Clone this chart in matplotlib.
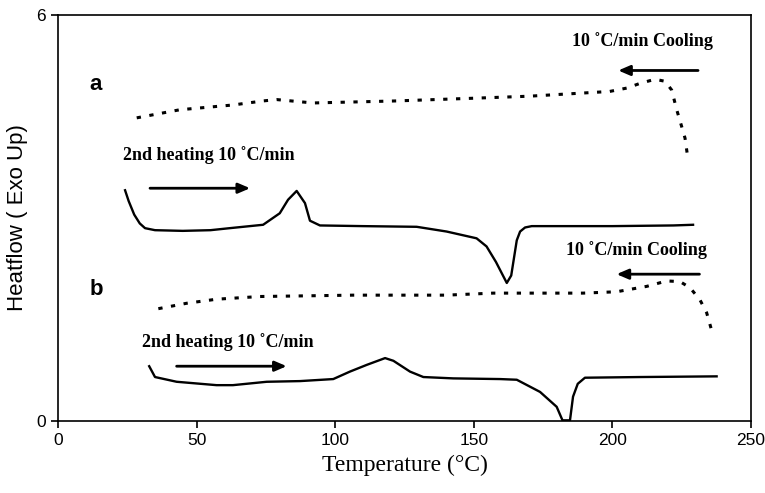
#!/usr/bin/env python
# DSC curves, heating / cooling at 10 C/min

import numpy as np
import matplotlib
matplotlib.use('Agg')
import matplotlib.pyplot as plt

# curve a, 2nd heating
a_heat_x = [24.2, 25.5, 27.5, 29.5, 31.4, 35, 45, 55, 62, 74, 80, 83, 86.1, 89.1, 90.9, 94.5,
            110, 129.4, 140.2, 151, 154.6, 158, 161.9, 163.5, 165.5, 166.7, 168.5, 170.9, 200, 222, 229.1]
a_heat_y = [3.41, 3.25, 3.05, 2.92, 2.85, 2.82, 2.81, 2.82, 2.85, 2.90, 3.07, 3.27, 3.40, 3.22, 2.96, 2.89,
            2.88, 2.87, 2.80, 2.70, 2.58, 2.35, 2.04, 2.15, 2.67, 2.80, 2.86, 2.88, 2.88, 2.89, 2.90]
# curve a, cooling
a_cool_x = [28.4, 44, 63.1, 74, 78.9, 92, 122, 150, 170, 199, 205.2, 210, 215.4, 219, 221.4, 223.2, 225, 226.2, 227.3]
a_cool_y = [4.48, 4.60, 4.67, 4.73, 4.75, 4.70, 4.73, 4.77, 4.80, 4.87, 4.92, 4.99, 5.05, 5.02, 4.89, 4.60, 4.35, 4.18, 3.86]
# curve b, 2nd heating
b_heat_x = [32.9, 35, 42.8, 57.2, 63.1, 75.3, 87.3, 99.3, 105.3, 111.4, 118, 121, 127, 131.8, 142.6,
            159.5, 165.5, 173.9, 179.9, 182, 184.7, 185.8, 187.5, 190.1, 210, 237.6]
b_heat_y = [0.81, 0.65, 0.58, 0.53, 0.53, 0.58, 0.59, 0.62, 0.73, 0.83, 0.93, 0.89, 0.73, 0.65, 0.63,
            0.62, 0.61, 0.43, 0.21, 0.01, 0.01, 0.36, 0.55, 0.64, 0.65, 0.66]
# curve b, cooling
b_cool_x = [36.2, 46.4, 57.2, 72.9, 106.4, 140, 157, 189.4, 201.5, 212.4, 219.6, 224.4, 228, 231.6, 234, 235.8]
b_cool_y = [1.66, 1.74, 1.80, 1.84, 1.86, 1.86, 1.89, 1.89, 1.91, 1.99, 2.07, 2.06, 1.97, 1.79, 1.60, 1.34]

fig = plt.figure(figsize=(7.65, 4.93), dpi=100)
ax = fig.add_axes([0.0758, 0.146, 0.9059, 0.8236])

ax.plot(a_heat_x, a_heat_y, color='black', linewidth=1.7)
ax.plot(b_heat_x, b_heat_y, color='black', linewidth=1.7)
ax.plot(a_cool_x, a_cool_y, color='black', linewidth=2.2, linestyle=(0, (1.4, 2.8)))
ax.plot(b_cool_x, b_cool_y, color='black', linewidth=2.2, linestyle=(0, (1.4, 2.8)))

arrow = dict(arrowstyle='-|>,head_length=0.7,head_width=0.3', color='black', lw=2.0, shrinkA=0, shrinkB=0)
ax.annotate('', xy=(69.3, 3.44), xytext=(33.2, 3.44), arrowprops=arrow)
ax.annotate('', xy=(202.1, 5.18), xytext=(230.9, 5.18), arrowprops=arrow)
ax.annotate('', xy=(82.5, 0.81), xytext=(42.8, 0.81), arrowprops=arrow)
ax.annotate('', xy=(201.5, 2.17), xytext=(231.4, 2.17), arrowprops=arrow)

tfont = dict(family='Liberation Serif', fontweight='bold', fontsize=13, va='center')
ax.text(23.4, 3.93, '2nd heating 10 \u02daC/min', ha='left', **tfont)
ax.text(30.2, 1.17, '2nd heating 10 \u02daC/min', ha='left', **tfont)
ax.text(236.3, 5.62, '10 \u02daC/min Cooling', ha='right', **tfont)
ax.text(234, 2.53, '10 \u02daC/min Cooling', ha='right', **tfont)

ax.text(11.3, 4.97, 'a', family='Liberation Sans', fontweight='bold', fontsize=16, va='center')
ax.text(11.3, 1.94, 'b', family='Liberation Sans', fontweight='bold', fontsize=16, va='center')

ax.set_xlim(0, 250)
ax.set_ylim(0, 6)
ax.set_xticks([0, 50, 100, 150, 200, 250])
ax.set_yticks([0, 6])
ax.tick_params(axis='both', direction='out', length=5, width=1.2, labelsize=12.5)
for lab in ax.get_xticklabels() + ax.get_yticklabels():
    lab.set_family('Liberation Sans')
for sp in ax.spines.values():
    sp.set_linewidth(1.2)
ax.set_xlabel('Temperature (\u00b0C)', family='Liberation Serif', fontsize=17, labelpad=5)
ax.set_ylabel('Heatflow ( Exo Up)', family='Liberation Sans', fontsize=16, labelpad=6)

fig.savefig('out.png', dpi=100)
print('Output to "out.png"!')
